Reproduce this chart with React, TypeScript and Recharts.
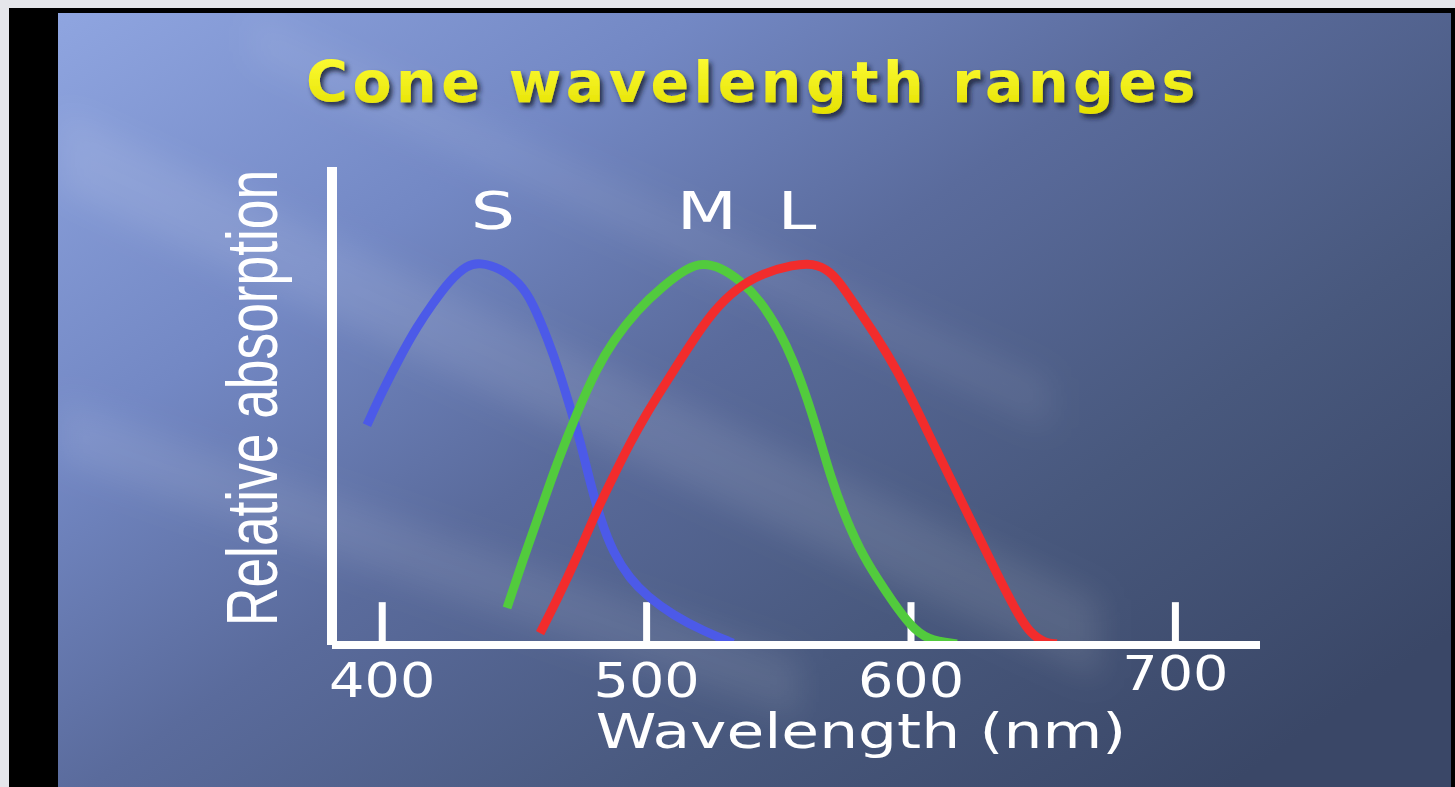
import React from 'react';
import { LineChart, Line, XAxis, YAxis, ReferenceLine, ReferenceDot, Label } from 'recharts';

// wavelength (nm) vs relative absorption
const xTicks = [400, 500, 600, 700];

const sCone = [
  { nm: 394.2, v: 0.575 }, { nm: 400.3, v: 0.667 }, { nm: 406.7, v: 0.753 },
  { nm: 413.1, v: 0.832 }, { nm: 419.2, v: 0.894 }, { nm: 425.6, v: 0.954 },
  { nm: 432.1, v: 0.994 }, { nm: 437.0, v: 1.0 }, { nm: 444.5, v: 0.986 },
  { nm: 452.1, v: 0.947 }, { nm: 457.0, v: 0.894 }, { nm: 462.3, v: 0.805 },
  { nm: 467.2, v: 0.711 }, { nm: 471.0, v: 0.622 }, { nm: 474.8, v: 0.536 },
  { nm: 478.6, v: 0.426 }, { nm: 482.4, v: 0.332 }, { nm: 487.3, v: 0.241 },
  { nm: 493.7, v: 0.173 }, { nm: 500.1, v: 0.128 }, { nm: 510.0, v: 0.078 },
  { nm: 521.3, v: 0.037 }, { nm: 532.7, v: 0.005 },
];

const mCone = [
  { nm: 447.2, v: 0.097 }, { nm: 453.2, v: 0.222 }, { nm: 459.7, v: 0.348 },
  { nm: 466.1, v: 0.476 }, { nm: 473.7, v: 0.609 }, { nm: 481.2, v: 0.724 },
  { nm: 487.3, v: 0.795 }, { nm: 496.4, v: 0.876 }, { nm: 506.2, v: 0.939 },
  { nm: 515.3, v: 0.986 }, { nm: 521.3, v: 0.999 }, { nm: 527.8, v: 0.988 },
  { nm: 535.3, v: 0.954 }, { nm: 542.9, v: 0.902 }, { nm: 550.4, v: 0.819 },
  { nm: 555.4, v: 0.745 }, { nm: 560.7, v: 0.646 }, { nm: 565.6, v: 0.536 },
  { nm: 569.4, v: 0.445 }, { nm: 574.3, v: 0.348 }, { nm: 580.7, v: 0.248 },
  { nm: 587.1, v: 0.175 }, { nm: 593.2, v: 0.112 }, { nm: 599.6, v: 0.052 },
  { nm: 606.0, v: 0.013 }, { nm: 617.4, v: 0.003 },
];

const lCone = [
  { nm: 459.7, v: 0.031 }, { nm: 466.1, v: 0.118 }, { nm: 473.7, v: 0.23 },
  { nm: 481.2, v: 0.353 }, { nm: 487.3, v: 0.439 }, { nm: 493.7, v: 0.528 },
  { nm: 500.1, v: 0.607 }, { nm: 507.7, v: 0.69 }, { nm: 516.4, v: 0.785 },
  { nm: 525.1, v: 0.873 }, { nm: 534.2, v: 0.934 }, { nm: 544.0, v: 0.973 },
  { nm: 555.4, v: 0.994 }, { nm: 562.9, v: 0.999 }, { nm: 569.4, v: 0.978 },
  { nm: 574.3, v: 0.936 }, { nm: 579.6, v: 0.881 }, { nm: 587.1, v: 0.805 },
  { nm: 594.7, v: 0.719 }, { nm: 602.3, v: 0.615 }, { nm: 609.8, v: 0.507 },
  { nm: 617.4, v: 0.4 }, { nm: 625.0, v: 0.293 }, { nm: 632.5, v: 0.186 },
  { nm: 640.1, v: 0.084 }, { nm: 645.0, v: 0.031 }, { nm: 650.7, v: 0.005 },
  { nm: 655.2, v: 0.003 },
];

const coneLabels = [
  { name: 'S', nm: 441.9, v: 1.088 },
  { name: 'M', nm: 522.8, v: 1.088 },
  { name: 'L', nm: 556.9, v: 1.088 },
];

const sans = '"DejaVu Sans", Verdana, sans-serif';
const arial = '"Liberation Sans", Arial, sans-serif';

// the slide image is stretched sideways, so text gets a horizontal scale
function StretchText({ x, y, sx = 1, rotate = 0, size, family = sans, weight = 'normal', fill = '#fff', spacing = 0, children }: any) {
  return (
    <g transform={`translate(${x},${y}) rotate(${rotate}) scale(${sx},1)`}>
      <text x={0} y={0} textAnchor="middle" fontSize={size} fontFamily={family} fontWeight={weight} fill={fill} letterSpacing={spacing}>
        {children}
      </text>
    </g>
  );
}

const WaveTick = (props: any) => {
  const { x, y, payload } = props;
  const lift = payload.value === 700 ? 7 : 0;
  return (
    <StretchText x={x} y={y + 52 - lift} sx={1.16} size={48}>
      {payload.value}
    </StretchText>
  );
};

const WaveTitle = (props: any) => {
  const vb = props.viewBox ?? { x: 332, y: 645, width: 928, height: 142 };
  return (
    <StretchText x={vb.x + vb.width / 2 + 65} y={vb.y + 103} sx={1.28} size={48}>
      Wavelength (nm)
    </StretchText>
  );
};

const AbsTitle = (props: any) => {
  const vb = props.viewBox ?? { x: 0, y: 167, width: 332, height: 478 };
  return (
    <StretchText x={vb.x + vb.width - 55} y={vb.y + vb.height / 2 - 8} rotate={-90} sx={0.74} size={72} family={arial}>
      Relative absorption
    </StretchText>
  );
};

const coneLabel = (name: string) => (props: any) => {
  const vb = props.viewBox ?? { x: 0, y: 0, width: 0, height: 0 };
  return (
    <StretchText x={vb.x + vb.width / 2} y={vb.y + vb.height / 2} sx={1.37} size={51}>
      {name}
    </StretchText>
  );
};

function Backdrop() {
  return (
    <svg width={1455} height={787} style={{ position: 'absolute', left: 0, top: 0 }}>
      <defs>
        <linearGradient id="slide" x1="0" y1="0" x2="1" y2="0.8">
          <stop offset="0" stopColor="#8fa5e0" />
          <stop offset="0.28" stopColor="#7388c4" />
          <stop offset="0.5" stopColor="#5a6b9c" />
          <stop offset="0.75" stopColor="#48587d" />
          <stop offset="1" stopColor="#3a4767" />
        </linearGradient>
        <linearGradient id="gold" x1="0" y1="0" x2="0" y2="1">
          <stop offset="0" stopColor="#ffff3a" />
          <stop offset="1" stopColor="#e4e000" />
        </linearGradient>
        <filter id="soft" x="-20%" y="-20%" width="140%" height="140%">
          <feGaussianBlur stdDeviation="16" />
        </filter>
        <filter id="shade" x="-5%" y="-20%" width="110%" height="150%">
          <feDropShadow dx="3" dy="4" stdDeviation="2.5" floodColor="#161b30" floodOpacity="0.85" />
        </filter>
        <clipPath id="slideClip">
          <rect x={58} y={13} width={1393} height={774} />
        </clipPath>
      </defs>
      <rect width={1455} height={787} fill="#e5e6eb" />
      <rect x={9} y={8} width={1446} height={779} fill="#000" />
      <rect x={58} y={13} width={1393} height={774} fill="url(#slide)" />
      <g clipPath="url(#slideClip)" filter="url(#soft)">
        <polygon points="60,110 1100,600 1100,680 60,190" fill="#fff" opacity={0.1} />
        <polygon points="60,400 800,660 800,720 60,460" fill="#fff" opacity={0.09} />
        <polygon points="250,13 1050,380 1050,430 250,60" fill="#fff" opacity={0.07} />
      </g>
      <g filter="url(#shade)">
        <StretchText x={753} y={102} sx={1} size={57} weight="bold" fill="url(#gold)" spacing={4.5}>
          Cone wavelength ranges
        </StretchText>
      </g>
    </svg>
  );
}

export default function App() {
  return (
    <div style={{ position: 'absolute', left: 0, top: 0, width: 1455, height: 787, overflow: 'hidden' }}>
      <Backdrop />
      <div style={{ position: 'absolute', left: 0, top: 0 }}>
        <LineChart width={1455} height={787} margin={{ top: 167, right: 195, bottom: 0, left: 0 }}>
          <XAxis
            type="number"
            dataKey="nm"
            domain={[381, 732]}
            allowDataOverflow
            ticks={xTicks}
            tickLine={false}
            tickSize={0}
            tickMargin={0}
            axisLine={{ stroke: '#fff', strokeWidth: 8 }}
            tick={<WaveTick />}
            height={142}
          >
            <Label content={WaveTitle} />
          </XAxis>
          <YAxis
            type="number"
            domain={[0, 1.25]}
            allowDataOverflow
            tick={false}
            tickLine={false}
            axisLine={{ stroke: '#fff', strokeWidth: 10 }}
            width={332}
          >
            <Label content={AbsTitle} />
          </YAxis>
          {xTicks.map((t) => (
            <ReferenceLine
              key={t}
              segment={[{ x: t, y: 0 }, { x: t, y: 0.112 }]}
              stroke="#fff"
              strokeWidth={7}
            />
          ))}
          <Line data={sCone} dataKey="v" type="basis" stroke="#4c5ae8" strokeWidth={9} dot={false} isAnimationActive={false} />
          <Line data={mCone} dataKey="v" type="basis" stroke="#52cb3d" strokeWidth={9} dot={false} isAnimationActive={false} />
          <Line data={lCone} dataKey="v" type="basis" stroke="#f22c2c" strokeWidth={9} dot={false} isAnimationActive={false} />
          {coneLabels.map((c) => (
            <ReferenceDot key={c.name} x={c.nm} y={c.v} r={0} fill="none" stroke="none">
              <Label content={coneLabel(c.name)} />
            </ReferenceDot>
          ))}
        </LineChart>
      </div>
    </div>
  );
}
